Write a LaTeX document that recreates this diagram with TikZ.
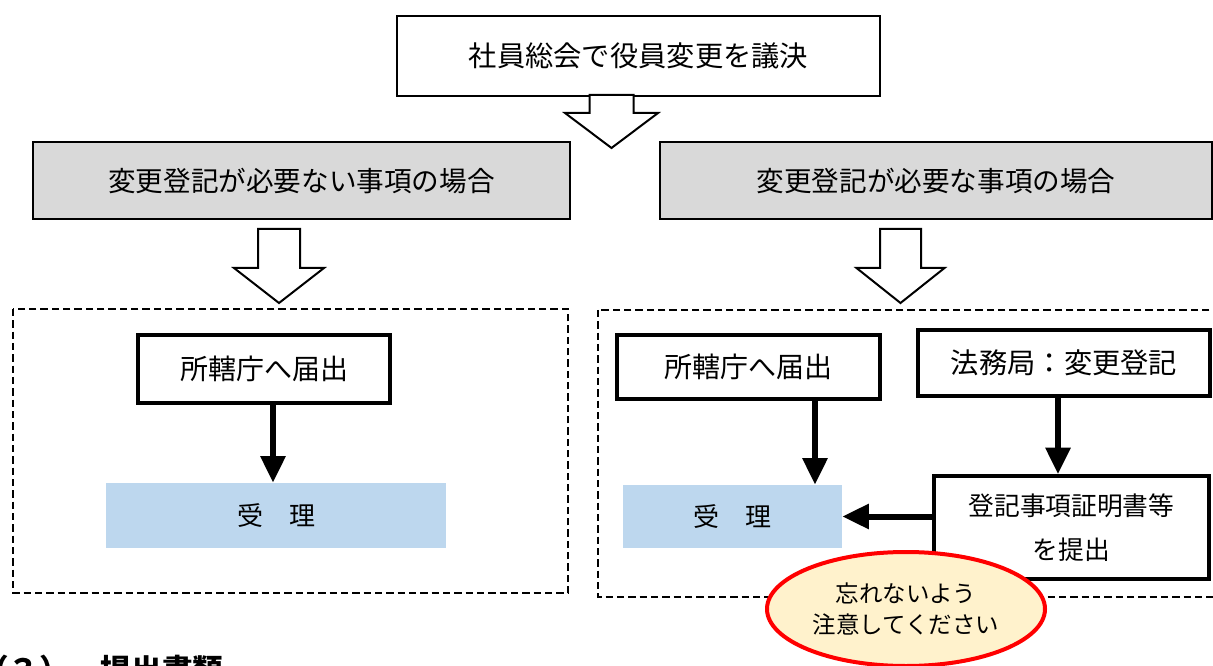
\documentclass[tikz,border=0pt]{standalone}
\usepackage{fontspec}
\setmainfont{Noto Sans CJK JP}
\usetikzlibrary{arrows.meta,shapes.geometric,calc}
\definecolor{grayf}{HTML}{D9D9D9}
\definecolor{bluef}{HTML}{BDD7EE}
\definecolor{notef}{HTML}{FFF2CC}
\definecolor{notered}{HTML}{FF0000}
\newcommand\pxl[1]{#1*0.75pt}
\newcommand\fs[2]{\fontsize{#1pt}{#2pt}\selectfont}
% block arrow: x center, y top, y head base, y tip, shaft half width, head half width
\newcommand\blockarr[6]{%
  \draw[bigarrow] (#1-#5,#2) -- (#1-#5,#3) -- (#1-#6,#3) -- (#1,#4) -- (#1+#6,#3) -- (#1+#5,#3) -- (#1+#5,#2) -- cycle;}
\begin{document}
\begin{tikzpicture}[x=0.75pt,y=-0.75pt,
  box/.style={draw,line width=1.5pt,rectangle,inner sep=0pt,align=center},
  graybox/.style={box,fill=grayf},
  thickbox/.style={draw,line width=2.6pt,rectangle,inner sep=0pt,align=center,fill=white},
  bluebox/.style={fill=bluef,rectangle,inner sep=0pt},
  dashbox/.style={draw,line width=1.9pt,dash pattern=on 5.5pt off 3pt},
  bigarrow/.style={draw,line width=1.5pt,fill=white,line join=miter},
  thickarrow/.style={line width=4.5pt,-{Triangle[width=18pt,length=20pt]}},
  note/.style={ellipse,draw=notered,line width=3pt,fill=notef,inner sep=0pt,align=center}]
\useasboundingbox (0,0) rectangle (1213,666);

% dashed groups
\draw[dashbox] (13,309) rectangle (568,593);
\draw[dashbox] (598,310) rectangle (1240,597);

% top
\node[box,minimum width=\pxl{483},minimum height=\pxl{80},font=\fs{21.2}{26}] (top) at (638.5,56) {社員総会で役員変更を議決};
\node[graybox,minimum width=\pxl{537},minimum height=\pxl{77},font=\fs{20.7}{26}] (gl) at (301.5,181) {変更登記が必要ない事項の場合};
\node[graybox,minimum width=\pxl{552},minimum height=\pxl{77},font=\fs{20.7}{26}] (gr) at (936,181) {変更登記が必要な事項の場合};

% block arrows
\blockarr{611.5}{95}{113}{148}{22}{46.5}
\blockarr{279}{229}{268}{303}{21}{45}
\blockarr{900.5}{229}{268}{303}{20.5}{44}

% left group
\node[thickbox,minimum width=\pxl{252},minimum height=\pxl{68},font=\fs{21}{26}] (l1) at (264,369) {所轄庁へ届出};
\node[bluebox,minimum width=\pxl{340},minimum height=\pxl{65},font=\fs{19.5}{24}] (lj) at (276,515.5) {受　理};

% right group
\node[thickbox,minimum width=\pxl{263},minimum height=\pxl{64},font=\fs{21}{26}] (r1) at (748.5,367) {所轄庁へ届出};
\node[thickbox,minimum width=\pxl{292},minimum height=\pxl{66},font=\fs{21.2}{26}] (h) at (1064,363) {法務局：変更登記};
\node[bluebox,minimum width=\pxl{219},minimum height=\pxl{63},font=\fs{19.5}{24}] (rj) at (732.5,516.5) {受　理};
\node[thickbox,minimum width=\pxl{275},minimum height=\pxl{103},font=\fs{19.3}{33}] (t) at (1071.5,527.5) {登記事項証明書等\\を提出};

\coordinate (la) at (273,0);
\coordinate (ra) at (815,0);
\coordinate (ha) at (1058,0);
\draw[thickarrow] (l1.south -| la) -- (lj.north -| la);
\draw[thickarrow] (r1.south -| ra) -- (rj.north -| ra);
\draw[thickarrow] (h.south -| ha) -- (t.north -| ha);
\draw[thickarrow] (t.west |- rj.east) -- (rj.east);

% note
\node[note,minimum width=\pxl{278},minimum height=\pxl{114},font=\fs{17.6}{23.5}] (n) at (906,609) {忘れないよう\\注意してください};

% cut-off heading
\node[anchor=base west,inner sep=0pt,font=\fs{23}{28}\bfseries] (hd) at (-22,681) {（３）　提出書類};
\end{tikzpicture}
\end{document}
